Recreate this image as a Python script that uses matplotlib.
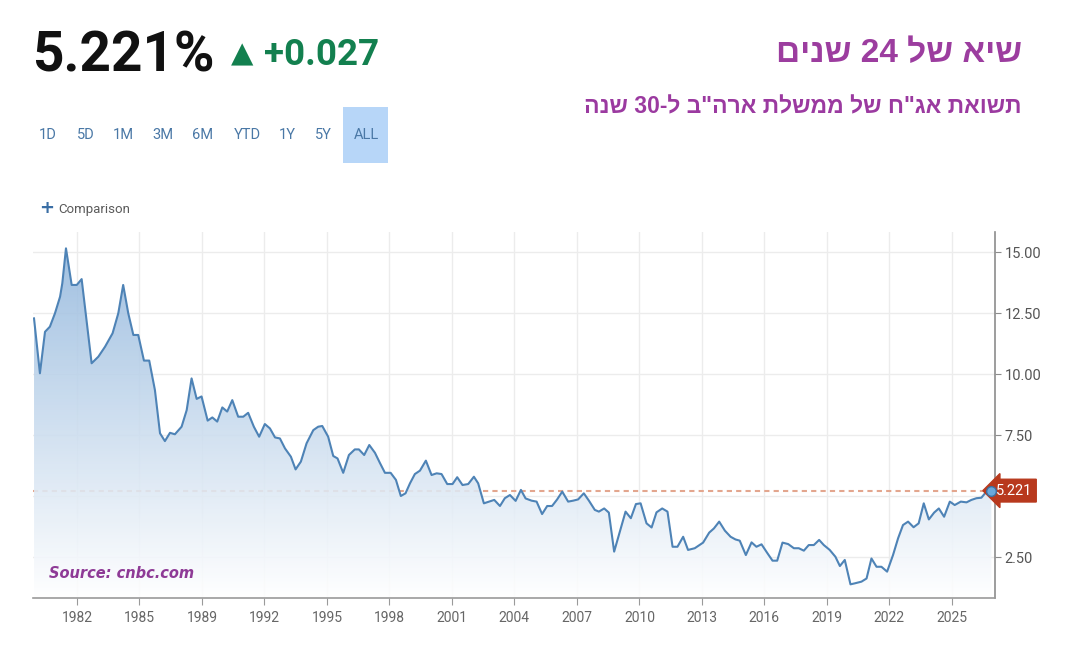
import re
import numpy as np
import matplotlib
matplotlib.use('Agg')
import matplotlib.pyplot as plt
from matplotlib.colors import LinearSegmentedColormap
from matplotlib.patches import Polygon, Rectangle

years = [1980.79, 1981.08, 1981.33, 1981.57, 1981.82, 1982.07, 1982.18, 1982.36, 1982.64, 1982.89,
         1983.13, 1983.62, 1983.95, 1984.28, 1984.65, 1984.93, 1985.17, 1985.42, 1985.67, 1985.91,
         1986.19, 1986.45, 1986.73, 1986.98, 1987.22, 1987.47, 1987.71, 1988.04, 1988.29, 1988.53,
         1988.78, 1989.02, 1989.32, 1989.55, 1989.79, 1990.04, 1990.28, 1990.53, 1990.82, 1991.07,
         1991.31, 1991.59, 1991.85, 1992.13, 1992.38, 1992.63, 1992.87, 1993.12, 1993.41, 1993.64,
         1993.90, 1994.18, 1994.51, 1994.75, 1994.95, 1995.24, 1995.49, 1995.70, 1995.98, 1996.26,
         1996.55, 1996.75, 1997.01, 1997.26, 1997.54, 1997.78, 1998.03, 1998.31, 1998.57, 1998.81,
         1999.04, 1999.26, 1999.50, 1999.75, 2000.04, 2000.32, 2000.57, 2000.81, 2001.09, 2001.35,
         2001.58, 2001.84, 2002.12, 2002.40, 2002.61, 2002.89, 2003.15, 2003.40, 2003.68, 2003.92,
         2004.17, 2004.45, 2004.71, 2004.94, 2005.23, 2005.48, 2005.75, 2006.00, 2006.24, 2006.49,
         2006.74, 2007.03, 2007.28, 2007.52, 2007.80, 2008.05, 2008.34, 2008.54, 2008.80, 2009.03,
         2009.29, 2009.57, 2009.85, 2010.11, 2010.36, 2010.59, 2010.88, 2011.13, 2011.37, 2011.65,
         2011.91, 2012.16, 2012.40, 2012.68, 2012.92, 2013.25, 2013.66, 2013.96, 2014.19, 2014.45,
         2014.73, 2015.01, 2015.25, 2015.46, 2015.76, 2016.04, 2016.28, 2016.53, 2016.80, 2017.07,
         2017.30, 2017.56, 2017.84, 2018.12, 2018.36, 2018.61, 2018.85, 2019.10, 2019.36, 2019.59,
         2019.88, 2020.16, 2020.38, 2020.62, 2020.90, 2021.11, 2021.44, 2021.69, 2021.93, 2022.18,
         2022.42, 2022.70, 2022.99, 2023.24, 2023.48, 2023.73, 2024.00, 2024.25, 2024.50, 2024.75,
         2025.01, 2025.24, 2025.50, 2025.78, 2026.02, 2026.32, 2026.60, 2026.84, 2027.09, 2027.33,
         2027.58, 2027.82]

yields = [12.28, 10.03, 11.73, 11.94, 12.49, 13.17, 13.72, 15.15, 13.65, 13.65,
          13.89, 10.44, 10.71, 11.12, 11.67, 12.49, 13.65, 12.49, 11.60, 11.60,
          10.55, 10.55, 9.34, 7.57, 7.25, 7.59, 7.53, 7.84, 8.52, 9.82,
          8.98, 9.08, 8.09, 8.22, 8.05, 8.63, 8.46, 8.93, 8.25, 8.25,
          8.41, 7.84, 7.43, 7.95, 7.77, 7.40, 7.36, 6.95, 6.61, 6.09,
          6.41, 7.16, 7.70, 7.84, 7.87, 7.43, 6.64, 6.54, 5.95, 6.68,
          6.91, 6.91, 6.68, 7.09, 6.77, 6.36, 5.95, 5.95, 5.66, 5.00,
          5.11, 5.52, 5.90, 6.04, 6.45, 5.86, 5.93, 5.90, 5.49, 5.49,
          5.77, 5.45, 5.49, 5.79, 5.52, 4.70, 4.77, 4.84, 4.59, 4.91,
          5.04, 4.80, 5.25, 4.90, 4.81, 4.77, 4.26, 4.59, 4.59, 4.86,
          5.18, 4.77, 4.81, 4.86, 5.11, 4.81, 4.43, 4.36, 4.49, 4.32,
          2.72, 3.54, 4.36, 4.09, 4.67, 4.70, 3.88, 3.71, 4.33, 4.49,
          4.36, 2.92, 2.92, 3.33, 2.79, 2.86, 3.09, 3.50, 3.67, 3.95,
          3.58, 3.33, 3.22, 3.17, 2.58, 3.10, 2.92, 3.02, 2.68, 2.35,
          2.35, 3.09, 3.03, 2.86, 2.86, 2.76, 2.99, 2.99, 3.20, 2.99,
          2.79, 2.51, 2.13, 2.38, 1.38, 1.42, 1.49, 1.62, 2.44, 2.10,
          2.10, 1.90, 2.58, 3.27, 3.81, 3.95, 3.72, 3.88, 4.70, 4.04,
          4.32, 4.49, 4.15, 4.77, 4.63, 4.77, 4.74, 4.84, 4.91, 4.93,
          5.18, 5.221]

tick_years = [1982.9, 1985.97, 1989.04, 1992.11, 1995.18, 1998.25, 2001.32, 2004.39,
              2007.46, 2010.53, 2013.6, 2016.67, 2019.74, 2022.81, 2025.88]
tick_labels = ['1982', '1985', '1989', '1992', '1995', '1998', '2001', '2004',
               '2007', '2010', '2013', '2016', '2019', '2022', '2025']
y_ticks = [2.5, 5.0, 7.5, 10.0, 12.5, 15.0]
y_tick_labels = ['2.50', '', '7.50', '10.00', '12.50', '15.00']

last_value = 5.221
change = '+0.027'
ranges = ['1D', '5D', '1M', '3M', '6M', 'YTD', '1Y', '5Y', 'ALL']
title_he = 'שיא של 24 שנים'
subtitle_he = 'תשואת אג"ח של ממשלת ארה"ב ל-30 שנה'


def visual(s):
    # matplotlib has no bidi support: put the Hebrew in display order
    r = s[::-1]
    return re.sub(r'\d+', lambda m: m.group(0)[::-1], r)


NARROW = ['Roboto', 'DejaVu Sans']
HEB = ['Liberation Sans', 'DejaVu Sans']
W, H = 1066, 660

fig = plt.figure(figsize=(W / 100, H / 100), dpi=100)
fig.patch.set_facecolor('white')


def fx(px):
    return px / W


def fy(py):
    return 1 - py / H


ax = fig.add_axes([fx(33), fy(598), fx(995) - fx(33), fy(232) - fy(598)])
ymin, ymax = 0.82, 15.82
x0, x1 = 1980.74, 2028.0
ax.set_xlim(x0, x1)
ax.set_ylim(ymin, ymax)

# gradient area under the line
cmap = LinearSegmentedColormap.from_list('fade', ['#ffffff', '#8fb5dc'])
grad = np.linspace(0, 1, 256).reshape(-1, 1)
im = ax.imshow(grad, extent=[x0, x1, ymin, ymax], origin='lower', aspect='auto',
               cmap=cmap, alpha=0.88, zorder=2)
xs = [years[0]] + years + [years[-1]]
ys = [ymin] + yields + [ymin]
clip = Polygon(np.column_stack([xs, ys]), closed=True, facecolor='none',
               edgecolor='none', transform=ax.transData)
ax.add_patch(clip)
im.set_clip_path(clip)

ax.axhline(last_value, xmax=(years[-1] - x0) / (x1 - x0), color='#e3a68e', lw=1.5,
           linestyle=(0, (2.5, 2)), zorder=1.5)
ax.plot(years, yields, color='#4e83b6', lw=1.5, zorder=3, solid_joinstyle='round')
ax.plot([years[-1]], [yields[-1]], 'o', ms=7, mfc='#6aa8da', mec='#3d6f9e', mew=1,
        zorder=5, clip_on=False)

ax.annotate(f'{last_value:.3f}', xy=(years[-1], yields[-1]), xytext=(3, 0),
            textcoords='offset points', ha='left', va='center', color='white',
            fontsize=10.5, family=NARROW, zorder=4, annotation_clip=False,
            bbox=dict(boxstyle='larrow,pad=0.3', fc='#b8391d', ec='#b8391d'))

ax.set_xticks(tick_years)
ax.set_xticklabels(tick_labels, family=NARROW)
ax.set_yticks(y_ticks)
ax.set_yticklabels(y_tick_labels, family=NARROW)
ax.yaxis.tick_right()
ax.tick_params(axis='x', length=5, color='#9a9a9a', labelcolor='#666666',
               labelsize=10, pad=4)
ax.tick_params(axis='y', length=4, color='#8c8c8c', labelcolor='#555555',
               labelsize=10.5, pad=3)
ax.grid(True, color='#ececec', lw=1, zorder=0)
ax.set_axisbelow(True)
for side in ['top', 'left']:
    ax.spines[side].set_visible(False)
ax.spines['right'].set_color('#8c8c8c')
ax.spines['bottom'].set_color('#9a9a9a')
ax.spines['right'].set_linewidth(1.2)
ax.spines['bottom'].set_linewidth(1.2)

fig.text(fx(49), fy(573), 'Source: cnbc.com', color='#8e3a96', fontsize=10.5,
         fontweight='bold', fontstyle='italic', ha='left', va='center', zorder=10)

# header
fig.text(fx(32), fy(72), f'{last_value:.3f}%', family=NARROW, fontweight='bold',
         fontsize=39.5, color='#111111', ha='left', va='baseline')
fig.text(fx(231), fy(62), '▲', family='DejaVu Sans', fontsize=21, color='#13804f',
         ha='left', va='baseline')
fig.text(fx(264), fy(65), change, family=NARROW, fontweight='bold', fontsize=26.5,
         color='#13804f', ha='left', va='baseline')

fig.patches.append(Rectangle((fx(343), fy(163)), fx(388) - fx(343), fy(107) - fy(163),
                             transform=fig.transFigure, facecolor='#b7d6f8',
                             edgecolor='none'))
range_x = [48, 86, 123, 163, 203, 247, 287, 323, 366]
for lbl, px in zip(ranges, range_x):
    fig.text(fx(px), fy(135), lbl, family=NARROW, fontsize=10.5, color='#4a78a6',
             ha='center', va='center')

fig.text(fx(47), fy(208), '+', fontsize=13, fontweight='bold', color='#3a6ea5',
         ha='center', va='center')
fig.text(fx(58), fy(209), 'Comparison', family=NARROW, fontsize=9.5, color='#5a5a5a',
         ha='left', va='center')

fig.text(fx(1022), fy(54), visual(title_he), family=HEB,
         fontweight='bold', fontsize=24, color='#9c3d9f', ha='right', va='center')
fig.text(fx(1022), fy(107), visual(subtitle_he), family=HEB,
         fontweight='bold', fontsize=16.5, color='#9b3aa0', ha='right', va='center')

fig.savefig('out.png', dpi=100, facecolor='white')
